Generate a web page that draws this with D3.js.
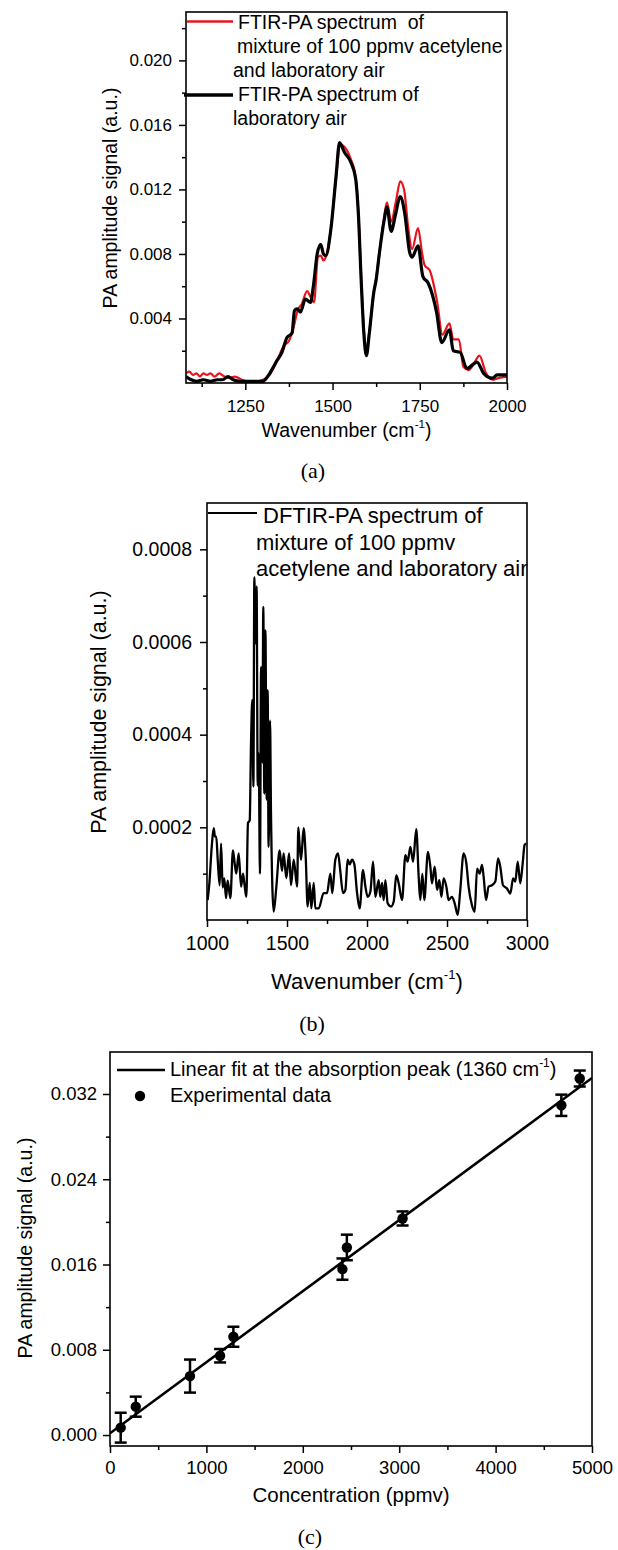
<!DOCTYPE html>
<html><head><meta charset="utf-8">
<script src="https://cdn.jsdelivr.net/npm/d3@7/dist/d3.min.js"></script>
<style>
body{margin:0;background:#fff}
svg{display:block;background:#fff}
text{font-family:"Liberation Sans",Arial,sans-serif;fill:#000}
.cap{font-family:"Liberation Serif","Times New Roman",serif}
</style>
</head><body>
<svg id="c" width="618" height="1550"></svg>
<script>
// ---------- Panel (a) data ----------
const aWnRed = [1080,1090,1100,1110,1120,1130,1140,1150,1162,1175,1190,1205,1220,1240,1260,1280,1300,1320,1345,1360,1375,1390,1400,1412,1427,1440,1447,1458,1466,1474,1482,1495,1510,1522,1536,1552,1566,1574,1582,1590,1597,1605,1618,1625,1634,1648,1656,1668,1682,1694,1705,1716,1728,1745,1757,1764,1778,1800,1815,1835,1846,1862,1875,1890,1905,1921,1940,1958,1975,2000];
const aRed   = [0.0006,0.0007,0.0005,0.0006,0.0004,0.0006,0.0005,0.0006,0.0004,0.0006,0.0004,0.0003,0.0004,0.0002,0.0001,0.0001,0.0002,0.0005,0.0016,0.0023,0.0026,0.0036,0.0045,0.0049,0.0057,0.0052,0.0050,0.0078,0.0079,0.0076,0.0079,0.0095,0.0127,0.0148,0.0146,0.0139,0.0128,0.0106,0.0066,0.0032,0.0020,0.0031,0.0056,0.0065,0.0080,0.0103,0.0112,0.0100,0.0113,0.0125,0.0120,0.0098,0.0083,0.0096,0.0080,0.0073,0.0070,0.0050,0.0030,0.0037,0.0027,0.0027,0.0010,0.0008,0.0012,0.0017,0.0006,0.0002,0.0003,0.0004];
const aWnBlack = [1080,1095,1110,1130,1150,1170,1185,1200,1215,1235,1260,1280,1300,1320,1341,1355,1369,1384,1391,1398,1408,1422,1437,1445,1456,1466,1474,1481,1495,1510,1520,1534,1552,1566,1574,1582,1590,1597,1605,1618,1625,1634,1648,1656,1668,1680,1694,1707,1721,1728,1745,1759,1774,1798,1813,1835,1846,1866,1885,1914,1933,1958,1972,2000];
const aBlack   = [0.0004,0.0002,0.0001,0.0002,0.0001,0.0002,0.0002,0.0004,0.0002,0.0001,0.0001,0.0001,0.0001,0.0006,0.0014,0.0019,0.0028,0.0031,0.0045,0.0046,0.0044,0.0052,0.0050,0.0060,0.0080,0.0086,0.0080,0.0079,0.0095,0.0128,0.0149,0.0143,0.0137,0.0127,0.0105,0.0064,0.0030,0.0017,0.0030,0.0056,0.0064,0.0080,0.0101,0.0109,0.0094,0.0104,0.01155,0.0105,0.0081,0.0078,0.0085,0.0066,0.0062,0.0044,0.0025,0.0033,0.0020,0.0019,0.0009,0.0013,0.0006,0.0003,0.0005,0.0005];
const aXMajor = [1250,1500,1750,2000];
const aXMinor = [1125,1375,1625,1875];
const aYMajor = [0.004,0.008,0.012,0.016,0.020];
const aYMinor = [0.002,0.006,0.010,0.014,0.018,0.022];

// ---------- Panel (b) data ----------
const bWn  = [1004,1015,1030,1042,1050,1058,1067,1079,1088,1098,1108,1119,1129,1146,1162,1173,1183,1198,1213,1225,1235,1246,1256,1267,1275,1283,1290,1296,1304,1310,1317,1323,1331,1338,1346,1352,1358,1365,1373,1379,1385,1394,1400,1417,1433,1454,1469,1479,1496,1513,1525,1542,1563,1571,1579,1588,1604,1617,1629,1642,1652,1667,1677,1698,1729,1750,1771,1783,1802,1819,1833,1850,1865,1879,1892,1906,1921,1938,1954,1975,1990,2004,2021,2038,2052,2073,2083,2094,2104,2115,2129,2150,2167,2183,2198,2219,2240,2254,2271,2288,2308,2323,2333,2346,2358,2381,2396,2406,2423,2438,2452,2465,2479,2496,2510,2531,2548,2567,2583,2604,2621,2635,2656,2673,2688,2704,2719,2729,2744,2760,2781,2802,2819,2833,2850,2875,2896,2913,2927,2942,2958,2973,2985,2996];
const bSig = [0.000043,0.00008,0.00016,0.000198,0.00018,0.00018,0.00013,0.000075,0.000165,0.00007,0.00009,0.000047,0.000085,0.000047,0.00015,0.000122,0.0001,0.000144,0.000072,0.0001,0.000075,0.00005,0.000209,0.000215,0.00038,0.000475,0.000288,0.00074,0.000597,0.00072,0.00029,0.00036,0.0001,0.000546,0.00034,0.000676,0.000273,0.000625,0.00026,0.000496,0.000158,0.00043,0.00023,0.000018,0.00007,0.00015,0.000106,0.000144,0.00009,0.000144,0.000075,0.00013,0.000072,0.0002,0.00016,0.00013,0.000198,0.000136,0.000029,0.00008,0.000025,0.00008,0.000025,0.000025,0.000058,0.000058,0.0001,0.000058,0.00013,0.000144,0.000106,0.000058,0.000065,0.00013,0.00012,0.00013,0.00012,0.000058,0.000025,0.000108,0.000072,0.00005,0.000061,0.000126,0.00005,0.000086,0.00005,0.00008,0.000043,0.000086,0.000036,0.000029,0.00004,0.000097,0.000079,0.000043,0.00014,0.000126,0.000158,0.000126,0.000196,0.000093,0.000043,0.0001,0.000043,0.000147,0.000115,0.000079,0.000115,0.000065,0.000086,0.00005,0.00009,0.000072,0.000043,0.00005,0.000036,0.000011,0.000065,0.000144,0.000122,0.000072,0.000032,0.000018,0.000111,0.0001,0.000119,0.000093,0.000043,0.000072,0.000075,0.000083,0.000133,0.000115,0.000075,0.000068,0.000057,0.00009,0.000083,0.000126,0.000079,0.000122,0.000162,0.000165];
const bXMajor = [1000,1500,2000,2500,3000];
const bXMinor = [1250,1750,2250,2750];
const bYMajor = [0.0002,0.0004,0.0006,0.0008];
const bYMinor = [0.0001,0.0003,0.0005,0.0007];

// ---------- Panel (c) data ----------
const cConc = [111,267,830,1142,1280,2411,2457,3035,4682,4873];
const cSig  = [0.00069,0.00266,0.00553,0.00744,0.00922,0.01557,0.0176,0.02032,0.03094,0.03345];
const cErr  = [0.0014,0.00094,0.00155,0.00063,0.00094,0.0010,0.0012,0.00066,0.0010,0.00075];
const cFitX = [0,5000];
const cFitY = [0.00016,0.0335];
const cXMajor = [0,1000,2000,3000,4000,5000];
const cXMinor = [500,1500,2500,3500,4500];
const cYMajor = [0,0.008,0.016,0.024,0.032];
const cYMinor = [0.004,0.012,0.020,0.028];

const svg = d3.select("#c");
const FONT = '"Liberation Sans",Arial,sans-serif';

function panel(p){
  const g = svg.append("g");
  const x = d3.scaleLinear().domain(p.xd).range([p.l,p.r]);
  const y = d3.scaleLinear().domain(p.yd).range([p.b,p.t]);
  const style = s => { s.select(".domain").remove(); s.attr("font-family",FONT).attr("font-size",p.tf);
    s.selectAll("line").attr("stroke","#000").attr("stroke-width",1.5); s.selectAll("text").attr("fill","#000"); };
  g.append("g").attr("transform",`translate(0,${p.b})`)
    .call(d3.axisBottom(x).tickValues(p.xMinor).tickSize(4).tickFormat("")).call(style);
  const xa = g.append("g").attr("transform",`translate(0,${p.b})`)
    .call(d3.axisBottom(x).tickValues(p.xMajor).tickSize(7).tickFormat(d3.format("d"))).call(style);
  xa.selectAll("text").attr("y",p.xtOff).attr("dy",0);
  g.append("g").attr("transform",`translate(${p.l},0)`)
    .call(d3.axisLeft(y).tickValues(p.yMinor).tickSize(4).tickFormat("")).call(style);
  const ya = g.append("g").attr("transform",`translate(${p.l},0)`)
    .call(d3.axisLeft(y).tickValues(p.yMajor).tickSize(7).tickFormat(d3.format(p.yf))).call(style);
  ya.selectAll("text").attr("x",-p.ytOff);
  const id = "clip"+p.name;
  svg.append("clipPath").attr("id",id).append("rect")
    .attr("x",p.l).attr("y",p.t).attr("width",p.r-p.l).attr("height",p.b-p.t);
  const plot = g.append("g").attr("clip-path",`url(#${id})`);
  const xl = g.append("text").attr("x",(p.l+p.r)/2).attr("y",p.xlY).attr("text-anchor","middle")
    .attr("font-size",p.lf);
  if(p.sup){
    xl.append("tspan").text(p.xlabel);
    xl.append("tspan").attr("font-size",p.lf*0.6).attr("dy",-p.lf*0.45).text("-1");
    xl.append("tspan").attr("dy",p.lf*0.45).text(")");
  } else xl.text(p.xlabel);
  g.append("text").attr("transform",`translate(${p.ylX},${p.ylY}) rotate(-90)`)
    .attr("text-anchor","middle").attr("font-size",p.ylf).text("PA amplitude signal (a.u.)");
  g.append("text").attr("class","cap").attr("x",p.capX).attr("y",p.capY).attr("text-anchor","middle")
    .attr("font-size",22).text(p.cap);
  const frame = ()=>g.append("rect").attr("x",p.l).attr("y",p.t).attr("width",p.r-p.l).attr("height",p.b-p.t)
    .attr("fill","none").attr("stroke","#000").attr("stroke-width",1.6);
  return {g,x,y,plot,frame};
}

// ---------- Panel (a) ----------
{
  const P = panel({name:"a",l:186,r:507,t:12,b:383,xd:[1080,2000],yd:[0,0.023],
    xMajor:aXMajor,xMinor:aXMinor,yMajor:aYMajor,yMinor:aYMinor,yf:".3f",tf:17,xtOff:29,ytOff:14,
    xlabel:"Wavenumber (cm",sup:true,lf:19.5,xlY:437,ylX:117,ylY:198,ylf:19.5,cap:"(a)",capX:313,capY:478});
  const line = d3.line().x(d=>P.x(d[0])).y(d=>P.y(d[1])).curve(d3.curveMonotoneX);
  P.plot.append("path").datum(d3.zip(aWnRed,aRed)).attr("d",line).attr("fill","none")
    .attr("stroke","#e8141c").attr("stroke-width",2.2).attr("stroke-linejoin","round");
  P.plot.append("path").datum(d3.zip(aWnBlack,aBlack)).attr("d",line).attr("fill","none")
    .attr("stroke","#000").attr("stroke-width",3.2).attr("stroke-linejoin","round");
  P.frame();
  const L = P.g.append("g").attr("font-size",19.5);
  L.append("line").attr("x1",187).attr("x2",233).attr("y1",21.5).attr("y2",21.5).attr("stroke","#e8141c").attr("stroke-width",2.5);
  L.append("line").attr("x1",184).attr("x2",233).attr("y1",95).attr("y2",95).attr("stroke","#000").attr("stroke-width",3.5);
  [["FTIR-PA spectrum  of",238,29],["mixture of 100 ppmv acetylene",237,53],["and laboratory air",233,77],
   ["FTIR-PA spectrum of",238,101],["laboratory air",233,125]].forEach(([t,x,y])=>
    L.append("text").attr("x",x).attr("y",y).style("white-space","pre").text(t));
}

// ---------- Panel (b) ----------
{
  const P = panel({name:"b",l:207,r:527,t:503,b:920,xd:[1000,3000],yd:[0,0.0009],
    xMajor:bXMajor,xMinor:bXMinor,yMajor:bYMajor,yMinor:bYMinor,yf:".4f",tf:19.5,xtOff:30,ytOff:15,
    xlabel:"Wavenumber (cm",sup:true,lf:22,xlY:989,ylX:106,ylY:712,ylf:21.5,cap:"(b)",capX:312,capY:1031});
  const line = d3.line().x(d=>P.x(d[0])).y(d=>P.y(d[1])).curve(d3.curveMonotoneX);
  P.plot.append("path").datum(d3.zip(bWn,bSig)).attr("d",line).attr("fill","none")
    .attr("stroke","#000").attr("stroke-width",2.3).attr("stroke-linejoin","round");
  P.frame();
  const L = P.g.append("g").attr("font-size",22);
  L.append("line").attr("x1",208).attr("x2",257).attr("y1",513).attr("y2",513).attr("stroke","#000").attr("stroke-width",2);
  [["DFTIR-PA spectrum of",263,523],["mixture of 100 ppmv",256,550],["acetylene and laboratory air",256,576]]
    .forEach(([t,x,y])=>L.append("text").attr("x",x).attr("y",y).text(t));
}

// ---------- Panel (c) ----------
{
  const P = panel({name:"c",l:110,r:592,t:1052,b:1446,xd:[0,5000],yd:[-0.00103,0.03594],
    xMajor:cXMajor,xMinor:cXMinor,yMajor:cYMajor,yMinor:cYMinor,yf:".3f",tf:18.5,xtOff:28,ytOff:13,
    xlabel:"Concentration (ppmv)",sup:false,lf:20.5,xlY:1502,ylX:32,ylY:1248,ylf:19.5,cap:"(c)",capX:310,capY:1544});
  const line = d3.line().x(d=>P.x(d[0])).y(d=>P.y(d[1]));
  P.plot.append("path").datum(d3.zip(cFitX,cFitY)).attr("d",line).attr("fill","none")
    .attr("stroke","#000").attr("stroke-width",2.6);
  const pts = d3.zip(cConc,cSig,cErr);
  const eb = P.g.append("g").attr("stroke","#000").attr("stroke-width",2.5);
  pts.forEach(([c,s,e])=>{
    const xx=P.x(c);
    eb.append("line").attr("x1",xx).attr("x2",xx).attr("y1",P.y(s-e)).attr("y2",P.y(s+e));
    eb.append("line").attr("x1",xx-6).attr("x2",xx+6).attr("y1",P.y(s-e)).attr("y2",P.y(s-e));
    eb.append("line").attr("x1",xx-6).attr("x2",xx+6).attr("y1",P.y(s+e)).attr("y2",P.y(s+e));
  });
  P.g.append("g").selectAll("circle").data(pts).join("circle")
    .attr("cx",d=>P.x(d[0])).attr("cy",d=>P.y(d[1])).attr("r",5.2).attr("fill","#000");
  P.frame();
  const L = P.g.append("g").attr("font-size",20);
  L.append("line").attr("x1",117).attr("x2",165).attr("y1",1070).attr("y2",1070).attr("stroke","#000").attr("stroke-width",2.6);
  const t1 = L.append("text").attr("x",170).attr("y",1076);
  t1.append("tspan").text("Linear fit at the absorption peak (1360 cm");
  t1.append("tspan").attr("font-size",12).attr("dy",-9).text("-1");
  t1.append("tspan").attr("dy",9).text(")");
  L.append("circle").attr("cx",140).attr("cy",1096).attr("r",5.2).attr("fill","#000");
  L.append("text").attr("x",170).attr("y",1102).text("Experimental data");
}
</script>
</body></html>
